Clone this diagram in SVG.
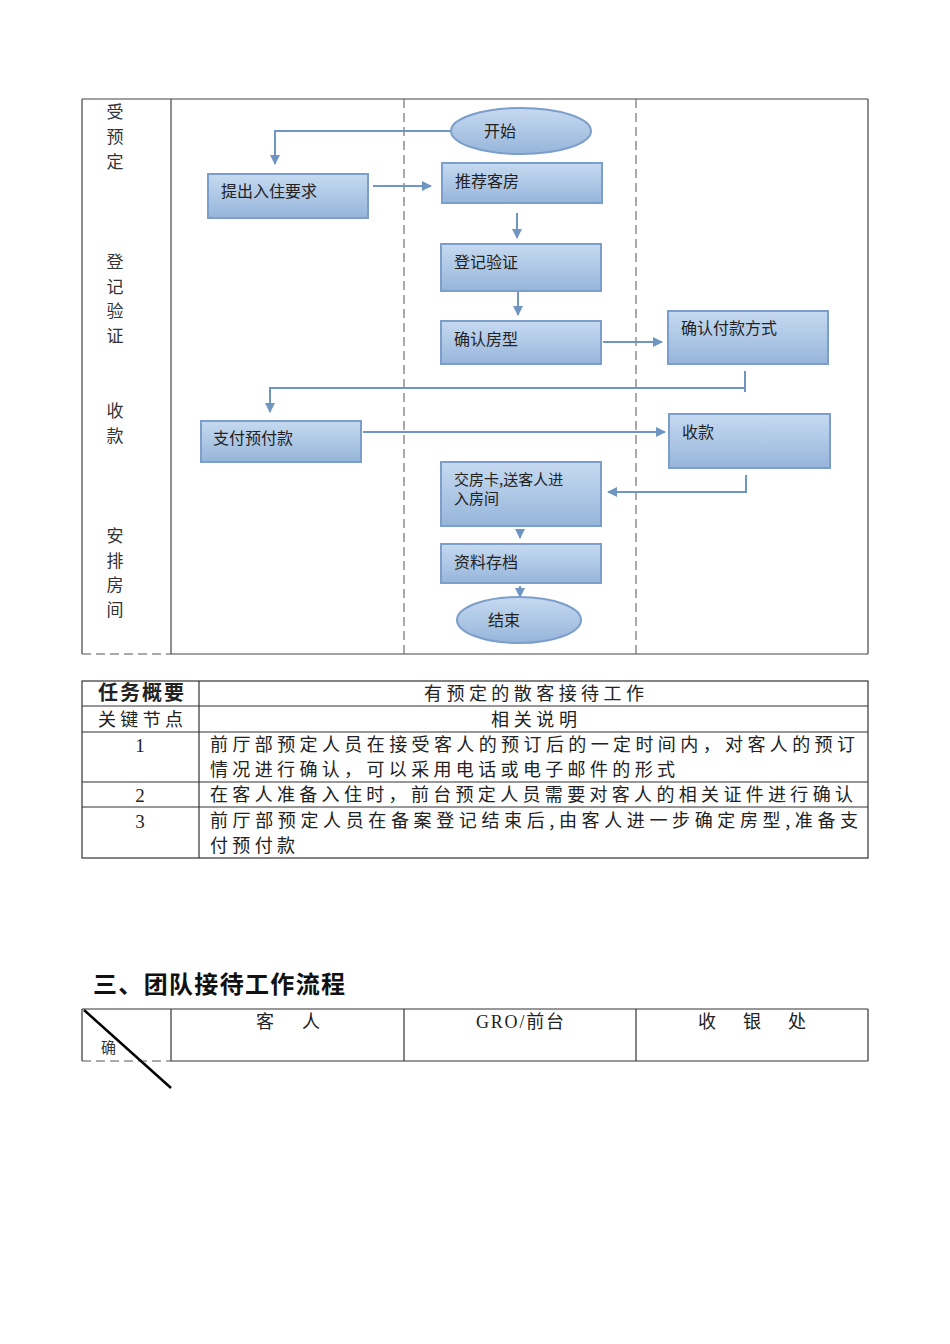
<svg xmlns="http://www.w3.org/2000/svg" width="950" height="1344" viewBox="0 0 950 1344">
<defs>
<linearGradient id="bg" x1="0" y1="0" x2="0" y2="1">
<stop offset="0" stop-color="#c6daf1"/>
<stop offset="1" stop-color="#96b5da"/>
</linearGradient>
<marker id="ah" viewBox="0 0 10 10" refX="9" refY="5" markerWidth="5" markerHeight="5" orient="auto" markerUnits="strokeWidth">
<path d="M0,0 L10,5 L0,10 z" fill="#6f95c2"/>
</marker>
<style>
.frame{stroke:#444;stroke-width:1.2;fill:none}
.dash{stroke:#555;stroke-width:1;stroke-dasharray:9,5;fill:none}
.box{fill:url(#bg);stroke:#7c9ecb;stroke-width:2}
.con{stroke:#6f95c2;stroke-width:2;fill:none}
.arr{stroke:#6f95c2;stroke-width:2;fill:none;marker-end:url(#ah)}
.lbl{font-family:"Noto Sans CJK SC",sans-serif;font-size:16px;fill:#222}
.side{font-family:"Noto Sans CJK SC",sans-serif;font-size:17px;fill:#333;text-anchor:middle}
.tb{font-family:"Noto Sans CJK SC",sans-serif;font-size:18px;fill:#222}
.num{font-family:"Liberation Serif",serif;font-size:19px;fill:#222;text-anchor:middle}
.tl{stroke:#333;stroke-width:1.2;fill:none}
</style>
</defs>
<rect width="950" height="1344" fill="#fff"/>

<g id="lane-frame">
<line class="frame" x1="82" y1="99" x2="868" y2="99"/>
<line class="frame" x1="82" y1="99" x2="82" y2="654"/>
<line class="frame" x1="868" y1="99" x2="868" y2="654"/>
<line class="frame" x1="171" y1="99" x2="171" y2="654"/>
<line class="frame" x1="171" y1="654" x2="868" y2="654"/>
<line class="dash" x1="82" y1="654" x2="171" y2="654"/>
<line class="dash" x1="404" y1="99" x2="404" y2="654"/>
<line class="dash" x1="636" y1="99" x2="636" y2="654"/>
</g>

<g id="side-labels">
<text class="side" x="115" y="118">受</text>
<text class="side" x="115" y="143">预</text>
<text class="side" x="115" y="168">定</text>
<text class="side" x="115" y="268">登</text>
<text class="side" x="115" y="293">记</text>
<text class="side" x="115" y="317">验</text>
<text class="side" x="115" y="342">证</text>
<text class="side" x="115" y="417">收</text>
<text class="side" x="115" y="442">款</text>
<text class="side" x="115" y="542">安</text>
<text class="side" x="115" y="567">排</text>
<text class="side" x="115" y="591">房</text>
<text class="side" x="115" y="616">间</text>
</g>

<g id="connectors">
<path class="arr" d="M451,131 H275 V164"/>
<path class="arr" d="M373,186 H431"/>
<path class="arr" d="M517,213 V238"/>
<path class="arr" d="M518,292 V315"/>
<path class="arr" d="M603,342 H662"/>
<path class="con" d="M745,371 V392"/>
<path class="arr" d="M745,388 H270 V412"/>
<path class="arr" d="M363,432 H665"/>
<path class="arr" d="M746,475 V492 H608"/>
<path class="arr" d="M520,529 V538"/>
<path class="arr" d="M520,586 V597"/>
</g>

<g id="n-start">
<ellipse class="box" cx="521" cy="131" rx="70" ry="23"/>
<text class="lbl" x="484" y="137">开始</text>
</g>
<g id="n-request">
<rect class="box" x="208" y="174" width="160" height="44"/>
<text class="lbl" x="221" y="197">提出入住要求</text>
</g>
<g id="n-recommend">
<rect class="box" x="442" y="163" width="160" height="40"/>
<text class="lbl" x="455" y="187">推荐客房</text>
</g>
<g id="n-register">
<rect class="box" x="441" y="244" width="160" height="47"/>
<text class="lbl" x="454" y="268">登记验证</text>
</g>
<g id="n-roomtype">
<rect class="box" x="441" y="321" width="160" height="43"/>
<text class="lbl" x="454" y="345">确认房型</text>
</g>
<g id="n-paymethod">
<rect class="box" x="668" y="311" width="160" height="53"/>
<text class="lbl" x="681" y="334">确认付款方式</text>
</g>
<g id="n-prepay">
<rect class="box" x="201" y="421" width="160" height="41"/>
<text class="lbl" x="213" y="444">支付预付款</text>
</g>
<g id="n-collect">
<rect class="box" x="669" y="414" width="161" height="54"/>
<text class="lbl" x="682" y="438">收款</text>
</g>
<g id="n-handover">
<rect class="box" x="441" y="462" width="160" height="64"/>
<text class="lbl" x="454" y="485" style="font-size:15px">交房卡,送客人进</text>
<text class="lbl" x="454" y="504" style="font-size:15px">入房间</text>
</g>
<g id="n-archive">
<rect class="box" x="441" y="544" width="160" height="39"/>
<text class="lbl" x="454" y="568">资料存档</text>
</g>
<g id="n-end">
<ellipse class="box" cx="519" cy="620" rx="62" ry="23"/>
<text class="lbl" x="488" y="626">结束</text>
</g>

<g id="summary-table">
<rect class="tl" x="82" y="681" width="786" height="177"/>
<line class="tl" x1="199" y1="681" x2="199" y2="858"/>
<line class="tl" x1="82" y1="706" x2="868" y2="706"/>
<line class="tl" x1="82" y1="732" x2="868" y2="732"/>
<line class="tl" x1="82" y1="782" x2="868" y2="782"/>
<line class="tl" x1="82" y1="807" x2="868" y2="807"/>
<text class="tb" x="98" y="700" style="font-weight:bold;font-size:20px" textLength="86" lengthAdjust="spacing">任务概要</text>
<text class="tb" x="424" y="700" textLength="220" lengthAdjust="spacing">有预定的散客接待工作</text>
<text class="tb" x="98" y="726" textLength="85" lengthAdjust="spacing">关键节点</text>
<text class="tb" x="491" y="726" textLength="86" lengthAdjust="spacing">相关说明</text>
<text class="num" x="140" y="752">1</text>
<text class="tb" x="210" y="751" textLength="645" lengthAdjust="spacing">前厅部预定人员在接受客人的预订后的一定时间内，对客人的预订</text>
<text class="tb" x="210" y="776" textLength="465" lengthAdjust="spacing">情况进行确认，可以采用电话或电子邮件的形式</text>
<text class="num" x="140" y="802">2</text>
<text class="tb" x="210" y="801" textLength="643" lengthAdjust="spacing">在客人准备入住时，前台预定人员需要对客人的相关证件进行确认</text>
<text class="num" x="140" y="828">3</text>
<text class="tb" x="210" y="827" textLength="648" lengthAdjust="spacing">前厅部预定人员在备案登记结束后,由客人进一步确定房型,准备支</text>
<text class="tb" x="210" y="852" textLength="85" lengthAdjust="spacing">付预付款</text>
</g>

<g id="heading">
<text x="93" y="993" style="font-family:'Noto Sans CJK SC',sans-serif;font-size:24px;font-weight:bold;fill:#111" textLength="252" lengthAdjust="spacing">三、团队接待工作流程</text>
</g>

<g id="group-table">
<line class="tl" x1="82" y1="1009" x2="868" y2="1009"/>
<line class="tl" x1="82" y1="1009" x2="82" y2="1061"/>
<line class="tl" x1="868" y1="1009" x2="868" y2="1061"/>
<line class="tl" x1="171" y1="1009" x2="171" y2="1061"/>
<line class="tl" x1="404" y1="1009" x2="404" y2="1061"/>
<line class="tl" x1="636" y1="1009" x2="636" y2="1061"/>
<line class="tl" x1="171" y1="1061" x2="868" y2="1061"/>
<line class="dash" x1="82" y1="1061" x2="171" y2="1061"/>
<line x1="84" y1="1010" x2="171" y2="1088" stroke="#000" stroke-width="2.5"/>
<text x="101" y="1053" style="font-family:'Noto Sans CJK SC',sans-serif;font-size:15px;fill:#333">确</text>
<text class="tb" x="256" y="1028" textLength="64" lengthAdjust="spacing">客　人</text>
<text x="476" y="1028" style="font-family:'Liberation Serif','Noto Sans CJK SC',serif;font-size:18px;fill:#222" textLength="88" lengthAdjust="spacing">GRO/前台</text>
<text class="tb" x="698" y="1028" textLength="108" lengthAdjust="spacing">收　银　处</text>
</g>
</svg>
